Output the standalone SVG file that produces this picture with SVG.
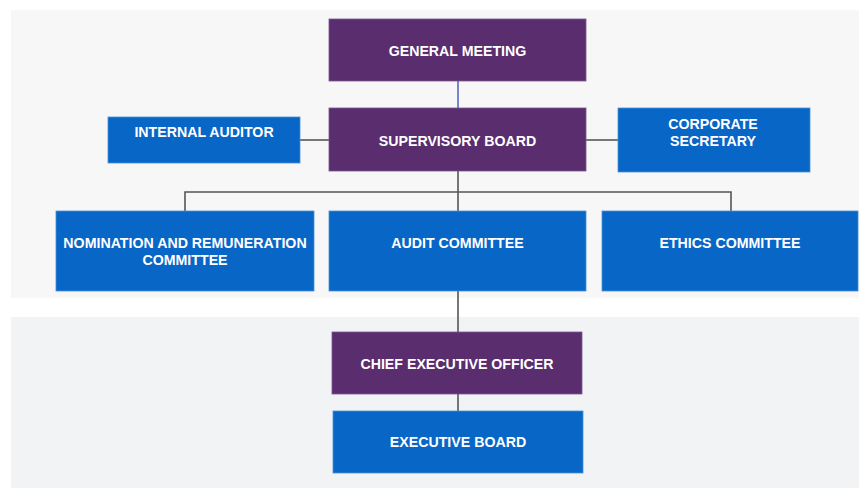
<svg xmlns="http://www.w3.org/2000/svg" width="859" height="488" viewBox="0 0 859 488">
  <style>
    .panel-top { fill: #f7f7f7; }
    .panel-bottom { fill: #f2f3f5; }
    .purple { fill: #5a2d6e; stroke: #7a5590; stroke-width: 0.8; }
    .blue { fill: #0866c6; stroke: #4a8fd8; stroke-width: 0.8; }
    .label { font-family: "Liberation Sans", Arial, Helvetica, sans-serif; font-size: 14.2px; font-weight: bold; fill: #ffffff; text-anchor: middle; }
    .link { stroke: #555555; stroke-width: 1.6; fill: none; }
    .link-top { stroke: #5468c4; stroke-width: 1.6; fill: none; }
  </style>

  <rect x="0" y="0" width="859" height="488" fill="#ffffff"/>

  <!-- background bands -->
  <rect class="panel-top" x="11" y="10" width="848" height="288"/>
  <rect class="panel-bottom" x="11" y="317" width="848" height="171"/>

  <!-- connectors -->
  <g id="connectors">
    <line class="link-top" x1="458" y1="81" x2="458" y2="108"/>
    <line class="link" x1="300" y1="140" x2="329" y2="140"/>
    <line class="link" x1="586" y1="140" x2="618" y2="140"/>
    <line class="link" x1="458" y1="171" x2="458" y2="211"/>
    <polyline class="link" points="185,211 185,192 731,192 731,211"/>
    <line class="link" x1="458" y1="291" x2="458" y2="332"/>
    <line class="link" x1="458" y1="394" x2="458" y2="411"/>
  </g>

  <g id="general-meeting">
    <rect class="purple" x="329" y="19" width="257" height="62"/>
    <text class="label" x="457.5" y="56">GENERAL MEETING</text>
  </g>

  <g id="supervisory-board">
    <rect class="purple" x="329" y="108" width="257" height="63"/>
    <text class="label" x="457.5" y="146">SUPERVISORY BOARD</text>
  </g>

  <g id="internal-auditor">
    <rect class="blue" x="108" y="117" width="192" height="46"/>
    <text class="label" x="204" y="137">INTERNAL AUDITOR</text>
  </g>

  <g id="corporate-secretary">
    <rect class="blue" x="618" y="108" width="192" height="64"/>
    <text class="label" x="713" y="129">CORPORATE</text>
    <text class="label" x="713" y="146">SECRETARY</text>
  </g>

  <g id="nomination-committee">
    <rect class="blue" x="56" y="211" width="258" height="80"/>
    <text class="label" x="185" y="248">NOMINATION AND REMUNERATION</text>
    <text class="label" x="185" y="265">COMMITTEE</text>
  </g>

  <g id="audit-committee">
    <rect class="blue" x="329" y="211" width="257" height="80"/>
    <text class="label" x="457.5" y="248">AUDIT COMMITTEE</text>
  </g>

  <g id="ethics-committee">
    <rect class="blue" x="602" y="211" width="256" height="80"/>
    <text class="label" x="730" y="248">ETHICS COMMITTEE</text>
  </g>

  <g id="chief-executive-officer">
    <rect class="purple" x="332" y="332" width="250" height="62"/>
    <text class="label" x="457" y="369">CHIEF EXECUTIVE OFFICER</text>
  </g>

  <g id="executive-board">
    <rect class="blue" x="333" y="411" width="250" height="62"/>
    <text class="label" x="458" y="447">EXECUTIVE BOARD</text>
  </g>
</svg>
